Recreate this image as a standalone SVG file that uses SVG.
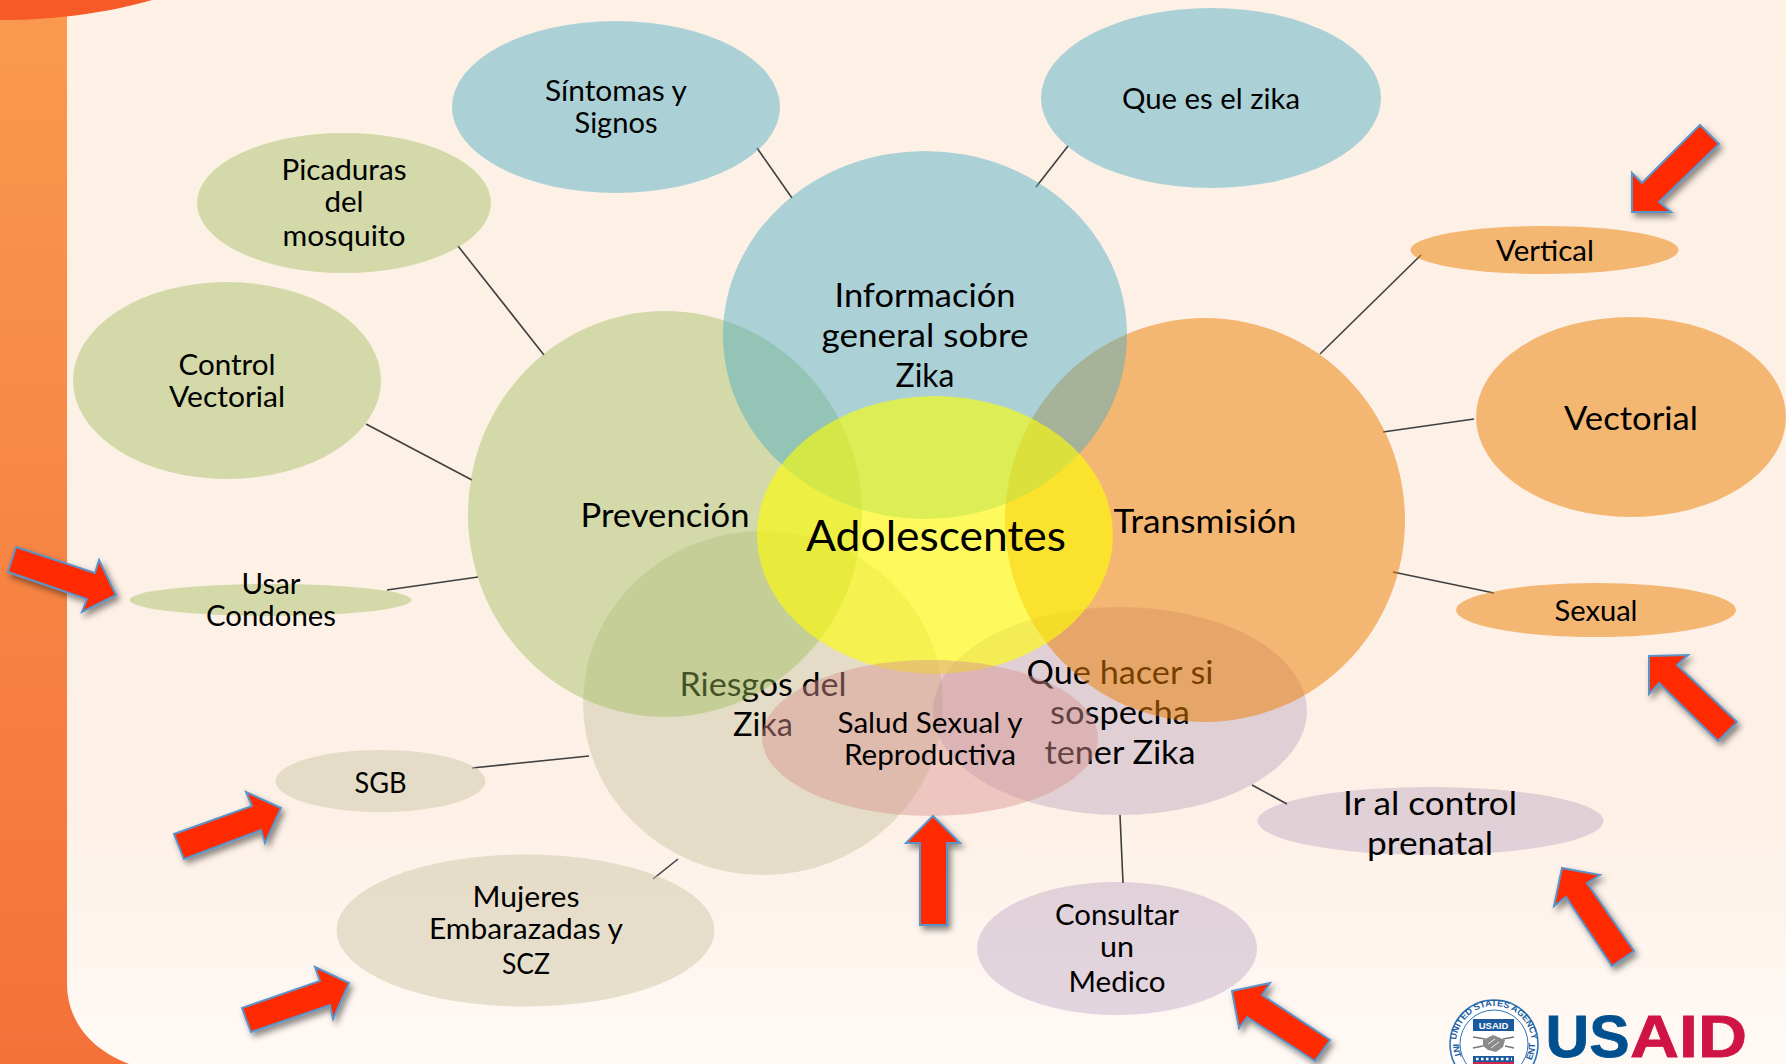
<svg xmlns="http://www.w3.org/2000/svg" width="1786" height="1064" viewBox="0 0 1786 1064">
<defs>
<linearGradient id="side" x1="0" y1="0" x2="0" y2="1"><stop offset="0" stop-color="#fa9a4e"/><stop offset="1" stop-color="#f4713a"/></linearGradient>
<linearGradient id="panel" x1="0" y1="0" x2="0" y2="1"><stop offset="0" stop-color="#fdf0e5"/><stop offset="0.75" stop-color="#fdf0e6"/><stop offset="1" stop-color="#fff9f5"/></linearGradient>
<filter id="sh" x="-30%" y="-30%" width="170%" height="170%"><feDropShadow dx="3" dy="4" stdDeviation="3" flood-color="#000" flood-opacity="0.45"/></filter>
<path id="sealTop" d="M1456,1044 A38,38 0 0 1 1532,1044"/>
<path id="sealL" d="M1453,1043 A41,41 0 0 0 1494,1085"/>
<path id="sealR" d="M1494,1085 A41,41 0 0 0 1535,1043"/>
</defs>
<style>
text{font-family:Lato,"Liberation Sans",sans-serif;fill:#000;text-anchor:middle}
.xl{font-size:43px}.l{font-size:33px}.m{font-size:28px}.s{font-size:26.5px}
.blue{fill:#4bacc6;fill-opacity:.46}.green{fill:#9bbb59;fill-opacity:.43}.orange{fill:#eb7e00;fill-opacity:.5}
.yellow{fill:#ffff00;fill-opacity:.6}.tan{fill:#cdc8a8;fill-opacity:.5}.lav{fill:#8064a2;fill-opacity:.23}.pink{fill:#d79391;fill-opacity:.45}
.arrow{fill:#ff2a00;stroke:#5b93c9;stroke-width:2;stroke-linejoin:miter;filter:url(#sh)}
#connectors line{stroke:#3f3f3f;stroke-width:1.6}
.logo{font-family:"Liberation Sans",Arial,sans-serif;font-weight:700}
</style>
<rect width="1786" height="1064" fill="url(#side)"/>
<path d="M67,0 H1786 V1064 H129 C92,1050 67,1022 67,983 Z" fill="url(#panel)"/>
<path d="M0,0 H152 C110,12 60,20 0,20 Z" fill="#f55a27"/>

<g id="connectors">
<line x1="757" y1="148" x2="792" y2="198"/>
<line x1="1068" y1="146" x2="1036" y2="187"/>
<line x1="458" y1="246" x2="544" y2="355"/>
<line x1="366" y1="424" x2="472" y2="480"/>
<line x1="387" y1="590" x2="478" y2="577"/>
<line x1="472" y1="768" x2="589" y2="756"/>
<line x1="653" y1="879" x2="678" y2="859"/>
<line x1="1120" y1="815" x2="1123" y2="883"/>
<line x1="1252" y1="785" x2="1287" y2="804"/>
<line x1="1393" y1="572" x2="1494" y2="593"/>
<line x1="1383" y1="432" x2="1474" y2="419"/>
<line x1="1320" y1="354" x2="1421" y2="255"/>
</g>

<g id="riesgos"><ellipse class="tan" cx="763" cy="703" rx="180" ry="172"/>
<text class="l" x="763" y="696" textLength="167" lengthAdjust="spacingAndGlyphs">Riesgos del</text>
<text class="l" x="763" y="736" textLength="60" lengthAdjust="spacingAndGlyphs">Zika</text></g>
<g id="que-hacer"><ellipse class="lav" cx="1120" cy="711" rx="187" ry="104"/>
<text class="l" x="1120" y="684" textLength="187" lengthAdjust="spacingAndGlyphs">Que hacer si</text>
<text class="l" x="1120" y="724" textLength="140" lengthAdjust="spacingAndGlyphs">sospecha</text>
<text class="l" x="1120" y="764" textLength="151" lengthAdjust="spacingAndGlyphs">tener Zika</text></g>
<g id="prevencion"><ellipse class="green" cx="665" cy="514" rx="197" ry="203"/>
<text class="l" x="665" y="527" textLength="169" lengthAdjust="spacingAndGlyphs">Prevención</text></g>
<g id="transmision"><ellipse class="orange" cx="1205" cy="520" rx="200" ry="202"/>
<text class="l" x="1205" y="533" textLength="183" lengthAdjust="spacingAndGlyphs">Transmisión</text></g>
<g id="informacion"><ellipse class="blue" cx="925" cy="335" rx="202" ry="184"/>
<text class="l" x="925" y="307" textLength="181" lengthAdjust="spacingAndGlyphs">Información</text>
<text class="l" x="925" y="347" textLength="207" lengthAdjust="spacingAndGlyphs">general sobre</text>
<text class="l" x="925" y="387" textLength="59" lengthAdjust="spacingAndGlyphs">Zika</text></g>
<g id="adolescentes"><ellipse class="yellow" cx="935" cy="535" rx="178" ry="139"/>
<text class="xl" x="936" y="551" textLength="260" lengthAdjust="spacingAndGlyphs">Adolescentes</text></g>
<g id="salud"><ellipse class="pink" cx="930" cy="738" rx="168" ry="78"/>
<text class="m" x="930" y="733" textLength="185" lengthAdjust="spacingAndGlyphs">Salud Sexual y</text>
<text class="m" x="930" y="765" textLength="172" lengthAdjust="spacingAndGlyphs">Reproductiva</text></g>

<g id="que-es"><ellipse class="blue" cx="1211" cy="98" rx="170" ry="90"/>
<text class="m" x="1211" y="109" textLength="178" lengthAdjust="spacingAndGlyphs">Que es el zika</text></g>
<g id="sintomas"><ellipse class="blue" cx="616" cy="107" rx="164" ry="86"/>
<text class="m" x="616" y="101" textLength="142" lengthAdjust="spacingAndGlyphs">Síntomas y</text>
<text class="m" x="616" y="133" textLength="83" lengthAdjust="spacingAndGlyphs">Signos</text></g>
<g id="picaduras"><ellipse class="green" cx="344" cy="203" rx="147" ry="70"/>
<text class="m" x="344" y="180" textLength="125" lengthAdjust="spacingAndGlyphs">Picaduras</text>
<text class="m" x="344" y="212" textLength="39" lengthAdjust="spacingAndGlyphs">del</text>
<text class="m" x="344" y="246" textLength="123" lengthAdjust="spacingAndGlyphs">mosquito</text></g>
<g id="control"><ellipse class="green" cx="227" cy="380.500" rx="154" ry="98.500"/>
<text class="m" x="227" y="375" textLength="97" lengthAdjust="spacingAndGlyphs">Control</text>
<text class="m" x="227" y="407" textLength="116" lengthAdjust="spacingAndGlyphs">Vectorial</text></g>
<g id="usar"><ellipse class="green" cx="270.500" cy="600" rx="141" ry="16"/>
<text class="m" x="271" y="594" textLength="59" lengthAdjust="spacingAndGlyphs">Usar</text>
<text class="m" x="271" y="626" textLength="130" lengthAdjust="spacingAndGlyphs">Condones</text></g>
<g id="sgb"><ellipse class="tan" cx="380.500" cy="781" rx="105" ry="31"/>
<text class="m" x="380.500" y="793" textLength="52" lengthAdjust="spacingAndGlyphs">SGB</text></g>
<g id="mujeres"><ellipse class="tan" cx="525.500" cy="930.500" rx="189" ry="76"/>
<text class="m" x="526" y="907" textLength="107" lengthAdjust="spacingAndGlyphs">Mujeres</text>
<text class="m" x="526" y="939" textLength="194" lengthAdjust="spacingAndGlyphs">Embarazadas y</text>
<text class="m" x="526" y="974" textLength="48" lengthAdjust="spacingAndGlyphs">SCZ</text></g>
<g id="consultar"><ellipse class="lav" cx="1117" cy="948.500" rx="140" ry="66.500"/>
<text class="m" x="1117" y="925" textLength="124" lengthAdjust="spacingAndGlyphs">Consultar</text>
<text class="m" x="1117" y="957" textLength="34" lengthAdjust="spacingAndGlyphs">un</text>
<text class="m" x="1117" y="992" textLength="97" lengthAdjust="spacingAndGlyphs">Medico</text></g>
<g id="ir-control"><ellipse class="lav" cx="1430.500" cy="821" rx="173" ry="34"/>
<text class="l" x="1430" y="815" textLength="174" lengthAdjust="spacingAndGlyphs">Ir al control</text>
<text class="l" x="1430" y="855" textLength="126" lengthAdjust="spacingAndGlyphs">prenatal</text></g>
<g id="sexual"><ellipse class="orange" cx="1596" cy="610" rx="140" ry="27"/>
<text class="m" x="1596" y="621" textLength="83" lengthAdjust="spacingAndGlyphs">Sexual</text></g>
<g id="vectorial"><ellipse class="orange" cx="1631" cy="417" rx="155" ry="100"/>
<text class="l" x="1631" y="430" textLength="134" lengthAdjust="spacingAndGlyphs">Vectorial</text></g>
<g id="vertical"><ellipse class="orange" cx="1544.500" cy="250" rx="134" ry="24"/>
<text class="m" x="1545" y="261" textLength="98" lengthAdjust="spacingAndGlyphs">Vertical</text></g>

<g id="arrows">
<polygon class="arrow" points="1700,125 1719,144 1659,202 1671,212 1632,212 1632,173 1642,183"/>
<polygon class="arrow" points="16,547 95,573 99,560 116,595 82,612 87,599 8,572"/>
<polygon class="arrow" points="174,834 252,806 246,792 281,808 265,843 261,830 184,859"/>
<polygon class="arrow" points="242,1008 320,981 315,967 349,983 333,1019 330,1005 251,1032"/>
<polygon class="arrow" points="933,816 960,843 947,843 947,925 920,925 920,843 906,843"/>
<polygon class="arrow" points="1232,991 1270,983 1262,995 1330,1040 1315,1061 1247,1017 1239,1028"/>
<polygon class="arrow" points="1562,868 1600,875 1587,883 1634,951 1612,966 1566,897 1554,906"/>
<polygon class="arrow" points="1649,656 1688,655 1677,665 1737,722 1718,741 1659,683 1649,694"/>
</g>

<g id="usaid-logo">
<circle cx="1494" cy="1044" r="44" fill="#fff" stroke="#2f74b5" stroke-width="1.6"/>
<circle cx="1494" cy="1044" r="34" fill="#fff" stroke="#2f74b5" stroke-width="1"/>
<text class="logo" font-size="9" style="fill:#1f5fa0"><textPath href="#sealTop" startOffset="50%">UNITED STATES AGENCY</textPath></text>
<text class="logo" font-size="9" style="fill:#1f5fa0;text-anchor:start"><textPath href="#sealL" startOffset="1">INT</textPath></text>
<text class="logo" font-size="9" style="fill:#1f5fa0;text-anchor:end"><textPath href="#sealR" startOffset="100%">ENT</textPath></text>
<rect x="1473" y="1019" width="41" height="12" fill="#1c5aa0"/>
<text class="logo" x="1493.5" y="1028.500" font-size="9.500" style="fill:#fff">USAID</text>
<path d="M1473,1037 L1485,1039 M1503,1039 L1514,1037 M1473,1048 L1483,1046 M1505,1046 L1514,1048" stroke="#777" stroke-width="1.5" fill="none"/>
<path d="M1483,1040 L1493,1035 L1505,1040 L1503,1047 L1496,1052 L1488,1050 L1483,1046 Z" fill="#8a8a8a"/>
<path d="M1488,1044 L1495,1039 M1491,1048 L1499,1042" stroke="#eee" stroke-width="1"/>
<rect x="1473" y="1056" width="41" height="6" fill="#1c5aa0"/>
<path d="M1476,1059 H1512" stroke="#fff" stroke-width="2.500" stroke-dasharray="2.500 2.500"/>
<rect x="1473" y="1062" width="41" height="2" fill="#d2274a"/>
<text class="logo" x="1545.500" y="1057" font-size="59" style="fill:#00508f;stroke:#00508f;stroke-width:.8;text-anchor:start" textLength="84" lengthAdjust="spacingAndGlyphs">US</text>
<text class="logo" x="1630" y="1057" font-size="59" style="fill:#cf1445;stroke:#cf1445;stroke-width:.8;text-anchor:start" textLength="117" lengthAdjust="spacingAndGlyphs">AID</text>
</g>
</svg>
